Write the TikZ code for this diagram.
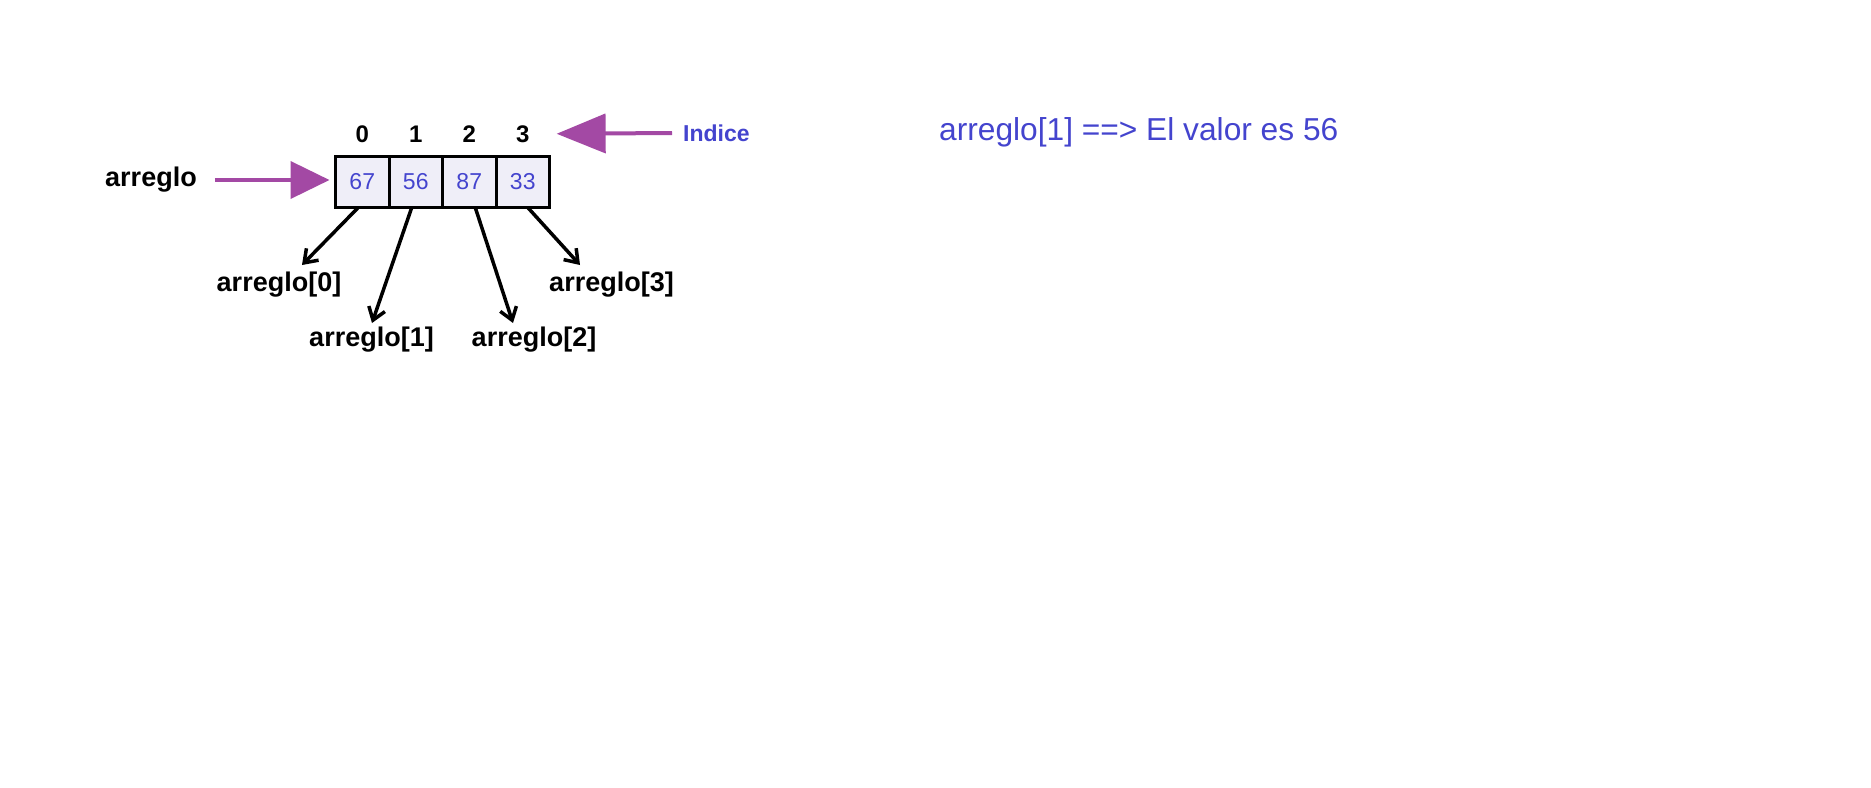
\documentclass[tikz,border=0pt]{standalone}
\usepackage{fontspec}
\setmainfont{Liberation Sans}
\usetikzlibrary{positioning,arrows.meta,calc}
\definecolor{idxblue}{RGB}{68,68,206}
\definecolor{ptrpurple}{RGB}{163,73,164}
\definecolor{cellfill}{RGB}{239,238,248}
\tikzset{
  % one array cell
  cell/.style  = {rectangle, draw=black, line width=3pt, fill=cellfill,
                  outer sep=0pt, inner sep=0pt, minimum width=53.5pt,
                  minimum height=51pt, text=idxblue,
                  font=\fontsize{23}{27}\selectfont},
  % index digit above a cell
  idx/.style   = {inner sep=0pt, font=\fontsize{24}{28}\selectfont\bfseries},
  % element label below the array
  elem/.style  = {inner sep=0pt, font=\fontsize{27}{32}\selectfont\bfseries},
  % purple pointer arrows
  ptr/.style   = {-{Triangle[length=39pt,width=37pt]}, line width=4pt, ptrpurple},
  % black element arrows
  flow/.style  = {-{Straight Barb[length=12pt,width=17pt]}, line width=3.5pt, black},
}
\begin{document}
\begin{tikzpicture}[x=1pt,y=-1pt]
  \useasboundingbox[fill=white] (0,0) rectangle (1871,787);

  % --- the array ---
  \node[cell] (c0) at (362.25,182) {67};
  \node[cell, right=0pt of c0] (c1) {56};
  \node[cell, right=0pt of c1] (c2) {87};
  \node[cell, right=0pt of c2] (c3) {33};

  % --- index digits ---
  \node[idx, above=14pt of c0] (i0) {0};
  \node[idx, above=14pt of c1] (i1) {1};
  \node[idx, above=14pt of c2] (i2) {2};
  \node[idx, above=14pt of c3] (i3) {3};

  % --- array name + pointer ---
  \node[elem] (name) at (151,180) {arreglo};
  \draw[ptr] ([xshift=18pt]name.east) -- ($(name.east -| c0.west)+(-6,0)$);

  % --- index pointer ---
  \node[inner sep=0pt, text=idxblue, font=\fontsize{23}{28}\selectfont\bfseries,
        anchor=west] (indice) at (683,133) {Indice};
  \draw[ptr, -{Triangle[length=49pt,width=39pt]}]
       ([xshift=-11pt]indice.west) -- ([xshift=27pt]i3.east);

  % --- element labels ---
  \node[elem] (l0) at (279,285) {arreglo[0]};
  \node[elem] (l1) at (371.5,340) {arreglo[1]};
  \node[elem] (l2) at (534,340) {arreglo[2]};
  \node[elem] (l3) at (611.5,285) {arreglo[3]};

  \draw[flow] ([xshift=-4pt]c0.south) -- ([xshift=23pt,yshift=20pt]l0.center);
  \draw[flow] ([xshift=-4pt]c1.south) -- ([xshift=0.5pt,yshift=17pt]l1.center);
  \draw[flow] ([xshift=6pt]c2.south) -- ([xshift=-21pt,yshift=17pt]l2.center);
  \draw[flow] ([xshift=5pt]c3.south) -- ([xshift=-31.5pt,yshift=20pt]l3.center);

  % --- access example ---
  \node[anchor=west, inner sep=0pt, text=idxblue,
        font=\fontsize{31.7}{38}\selectfont] (note) at (939,132)
       {arreglo[1] ==> El valor es 56};

\end{tikzpicture}
\end{document}
